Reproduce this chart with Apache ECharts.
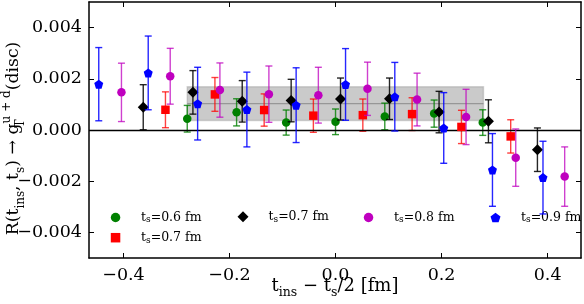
<!DOCTYPE html>
<html><head><meta charset="utf-8">
<script src="https://cdn.jsdelivr.net/npm/echarts@6/dist/echarts.min.js"></script>
<style>html,body{margin:0;padding:0;background:#fff}#c{width:584px;height:304px}</style>
</head><body><div id="c"></div>
<script>
// ---- data ----
const xTicks = [-0.4, -0.2, 0.0, 0.2, 0.4];
const yTicks = [-0.004, -0.002, 0.0, 0.002, 0.004];

const xGreen = [-0.2797, -0.1866, -0.0931, 0.0, 0.0929, 0.186, 0.2777];
const yGreen = [0.00044, 0.00069, 0.00029, 0.00032, 0.00053, 0.00064, 0.00029];
const eGreen = [0.00052, 0.00053, 0.00049, 0.0005, 0.00052, 0.00053, 0.0005];

const xRed = [-0.3208, -0.2275, -0.1346, -0.0418, 0.0515, 0.1444, 0.2375, 0.3304];
const yRed = [0.00079, 0.00139, 0.00078, 0.00056, 0.00058, 0.00062, 0.00012, -0.00025];
const eRed = [0.0007, 0.00066, 0.00063, 0.00065, 0.00063, 0.00064, 0.00065, 0.00065];

const xBlack = [-0.3627, -0.269, -0.176, -0.0837, 0.0094, 0.1018, 0.1953, 0.2884, 0.3808];
const yBlack = [0.00089, 0.00147, 0.00112, 0.00115, 0.00121, 0.00122, 0.0007, 0.00034, -0.00077];
const eBlack = [0.00088, 0.00085, 0.00081, 0.00083, 0.00082, 0.00081, 0.00081, 0.00084, 0.00085];

const xMag = [-0.4038, -0.3118, -0.2181, -0.1257, -0.0324, 0.0603, 0.1538, 0.2462, 0.3399, 0.4322];
const yMag = [0.00147, 0.0021, 0.00156, 0.0014, 0.00136, 0.00161, 0.00119, 0.00051, -0.00108, -0.00182];
const eMag = [0.00114, 0.00109, 0.00106, 0.0011, 0.00109, 0.00104, 0.00103, 0.00108, 0.00112, 0.00116];

const xBlue = [-0.4466, -0.3533, -0.2601, -0.1672, -0.0743, 0.0189, 0.1118, 0.2041, 0.296, 0.3913];
const yBlue = [0.00179, 0.00223, 0.00103, 0.0008, 0.00097, 0.00178, 0.0013, 0.00008, -0.00156, -0.00186];
const eBlue = [0.00143, 0.00144, 0.00142, 0.00146, 0.00146, 0.0014, 0.00134, 0.00138, 0.00142, 0.00142];

const bandX = [-0.2797, 0.279];
const bandCenter = 0.00103;
const bandErr = 0.00066;

const legendLabels = ['0.6', '0.7', '0.7', '0.8', '0.9'];
// -------------------------------------

const FONT = 'DejaVu Serif';
const chart = echarts.init(document.getElementById('c'), null, {renderer: 'canvas'});

const pentagon = 'path://M0,-1 L0.951,-0.309 L0.588,0.809 L-0.588,0.809 L-0.951,-0.309 Z';
const square = 'path://M-1,-1 L1,-1 L1,1 L-1,1 Z';
const diamond = 'path://M0,-1 L1,0 L0,1 L-1,0 Z';

const groups = [
  {id: 's06', x: xGreen, y: yGreen, e: eGreen, color: '#008000', bar: 'rgba(0,128,0,0.8)', symbol: 'circle', size: 8.5, lab: legendLabels[0]},
  {id: 's07a', x: xRed, y: yRed, e: eRed, color: '#ff0000', bar: 'rgba(255,0,0,0.75)', symbol: square, size: 8.5, lab: legendLabels[1]},
  {id: 's07b', x: xBlack, y: yBlack, e: eBlack, color: '#000000', bar: 'rgba(0,0,0,0.85)', symbol: diamond, size: 11, lab: legendLabels[2]},
  {id: 's08', x: xMag, y: yMag, e: eMag, color: '#bf00bf', bar: 'rgba(191,0,191,0.75)', symbol: 'circle', size: 8.5, lab: legendLabels[3]},
  {id: 's09', x: xBlue, y: yBlue, e: eBlue, color: '#0000ff', bar: 'rgba(0,0,255,0.85)', symbol: pentagon, size: 9, lab: legendLabels[4]}
];

function errRender(color) {
  return function (params, api) {
    const x = api.value(0), lo = api.value(1), hi = api.value(2);
    const p1 = api.coord([x, hi]), p2 = api.coord([x, lo]);
    const hw = 3.5;
    const st = {stroke: color, lineWidth: 1.4};
    return {type: 'group', children: [
      {type: 'line', shape: {x1: p1[0], y1: p1[1], x2: p2[0], y2: p2[1]}, style: st},
      {type: 'line', shape: {x1: p1[0] - hw, y1: p1[1], x2: p1[0] + hw, y2: p1[1]}, style: st},
      {type: 'line', shape: {x1: p2[0] - hw, y1: p2[1], x2: p2[0] + hw, y2: p2[1]}, style: st}
    ]};
  };
}

const series = [];
// band
series.push({
  type: 'custom', name: 'band', z: 1, silent: true,
  xAxisIndex: 0, yAxisIndex: 0,
  data: [[bandX[0], bandX[1], bandCenter - bandErr, bandCenter + bandErr, bandCenter]],
  encode: {x: [0, 1], y: [2, 3]},
  renderItem: function (params, api) {
    const a = api.coord([api.value(0), api.value(3)]);
    const b = api.coord([api.value(1), api.value(2)]);
    const c1 = api.coord([api.value(0), api.value(4)]);
    const c2 = api.coord([api.value(1), api.value(4)]);
    return {type: 'group', children: [
      {type: 'rect', shape: {x: a[0], y: a[1], width: b[0] - a[0], height: b[1] - a[1]},
       style: {fill: 'rgba(128,128,128,0.42)', stroke: 'rgba(140,140,140,0.35)', lineWidth: 1.5}},
      {type: 'line', shape: {x1: c1[0], y1: c1[1], x2: c2[0], y2: c2[1]},
       style: {stroke: 'rgba(130,130,130,0.7)', lineWidth: 1.2}}
    ]};
  },
  markLine: {
    symbol: 'none', silent: true, animation: false,
    label: {show: false},
    lineStyle: {color: '#000', width: 1.3, type: 'solid'},
    data: [{yAxis: 0}]
  }
});

groups.forEach(function (g, gi) {
  series.push({
    type: 'custom', name: g.id + '_err', z: 2 + gi * 2, silent: true,
    xAxisIndex: 0, yAxisIndex: 0,
    data: g.x.map(function (xv, i) { return [xv, g.y[i] - g.e[i], g.y[i] + g.e[i]]; }),
    encode: {x: 0, y: [1, 2]},
    renderItem: errRender(g.bar)
  });
  series.push({
    type: 'scatter', name: g.id, z: 3 + gi * 2,
    xAxisIndex: 0, yAxisIndex: 0,
    symbol: g.symbol, symbolSize: g.size,
    itemStyle: {color: g.color, opacity: 1},
    data: g.x.map(function (xv, i) { return [xv, g.y[i]]; })
  });
});

const legRich = {
  t: {fontFamily: FONT, fontSize: 12.5, lineHeight: 14, color: '#000'},
  s: {fontFamily: FONT, fontSize: 9, lineHeight: 9, verticalAlign: 'bottom', color: '#000'}
};
const labMap = {};
groups.forEach(function (g) { labMap[g.id] = g.lab; });
function legFmt(name) { return '{t|t}{s|s}{t|=' + labMap[name] + ' fm}'; }
function legendAt(left, items, ih, top) {
  return {
    orient: 'vertical', left: left, top: top, padding: 0,
    itemWidth: 41, itemHeight: ih, itemGap: 6.7,
    selectedMode: false,
    data: items,
    formatter: legFmt,
    textStyle: {fontFamily: FONT, fontSize: 12.5, color: '#000', rich: legRich}
  };
}

function fmtY(v) { return (v < 0 ? '\u2212' : '') + Math.abs(v).toFixed(3); }
function fmtX(v) { return (v < 0 ? '\u2212' : '') + Math.abs(v).toFixed(1); }

const axisLineStyle = {color: '#000', width: 1.5};
function mkRich(fs, ss) {
  return {
    m: {fontFamily: FONT, fontSize: fs, lineHeight: 26, color: '#000'},
    sb: {fontFamily: FONT, fontSize: ss, lineHeight: 12, verticalAlign: 'bottom', color: '#000'},
    sbz: {fontFamily: FONT, fontSize: ss, lineHeight: 12, verticalAlign: 'bottom', color: '#000', width: 0.1, align: 'left'},
    sp: {fontFamily: FONT, fontSize: ss, lineHeight: 12, verticalAlign: 'top', color: '#000'}
  };
}

const option = {
  animation: false,
  backgroundColor: '#fff',
  grid: {left: 89, right: 3, top: 2, bottom: 46, containLabel: false, outerBoundsMode: 'none'},
  legend: [
    legendAt(110.8, [{name: 's06', icon: 'circle'}, {name: 's07a', icon: square}], 9.5, 211),
    legendAt(237.5, [{name: 's07b', icon: diamond}], 11, 210.3),
    legendAt(363.8, [{name: 's08', icon: 'circle'}], 9.5, 211),
    legendAt(490.5, [{name: 's09', icon: pentagon}], 9.5, 211)
  ],
  xAxis: [
    {
      type: 'value', min: -0.465, max: 0.463, position: 'bottom',
      axisLine: {show: true, onZero: false, lineStyle: axisLineStyle},
      axisTick: {show: true, inside: true, length: 5, customValues: xTicks, lineStyle: {color: '#000', width: 1}},
      axisLabel: {show: true, customValues: xTicks, formatter: fmtX, margin: 8,
                  fontFamily: FONT, fontSize: 17.5, color: '#000'},
      splitLine: {show: false},
      name: '{m|t}{sb|ins}{m| \u2212 t}{sb|s}{m|/2 [fm]}',
      nameLocation: 'middle', nameGap: 15, nameMoveOverlap: false,
      nameTextStyle: {fontFamily: FONT, fontSize: 18, color: '#000', rich: mkRich(18, 12.5)}
    },
    {
      type: 'value', min: -0.465, max: 0.463, position: 'top',
      axisLine: {show: true, onZero: false, lineStyle: axisLineStyle},
      axisTick: {show: true, inside: true, length: 5, customValues: xTicks, lineStyle: {color: '#000', width: 1}},
      axisLabel: {show: false},
      splitLine: {show: false}
    }
  ],
  yAxis: [
    {
      type: 'value', min: -0.005, max: 0.005, position: 'left',
      axisLine: {show: true, onZero: false, lineStyle: axisLineStyle},
      axisTick: {show: true, inside: true, length: 5, customValues: yTicks, lineStyle: {color: '#000', width: 1}},
      axisLabel: {show: true, customValues: yTicks, formatter: fmtY, margin: 7,
                  fontFamily: FONT, fontSize: 17.5, color: '#000'},
      splitLine: {show: false},
      name: '{m|R(t}{sb|ins}{m|, t}{sb|s}{m|) \u2192 g}{sbz|T}{sp|u + d}{m|(disc)}',
      nameLocation: 'middle', nameGap: 62, nameRotate: 90, nameMoveOverlap: false,
      nameTextStyle: {fontFamily: FONT, fontSize: 17.3, color: '#000', padding: [0, 17, 0, 0], rich: mkRich(17.3, 12)}
    },
    {
      type: 'value', min: -0.005, max: 0.005, position: 'right',
      axisLine: {show: true, onZero: false, lineStyle: axisLineStyle},
      axisTick: {show: true, inside: true, length: 5, customValues: yTicks, lineStyle: {color: '#000', width: 1}},
      axisLabel: {show: false},
      splitLine: {show: false}
    }
  ],
  series: series
};
chart.setOption(option);
</script>
</body></html>
